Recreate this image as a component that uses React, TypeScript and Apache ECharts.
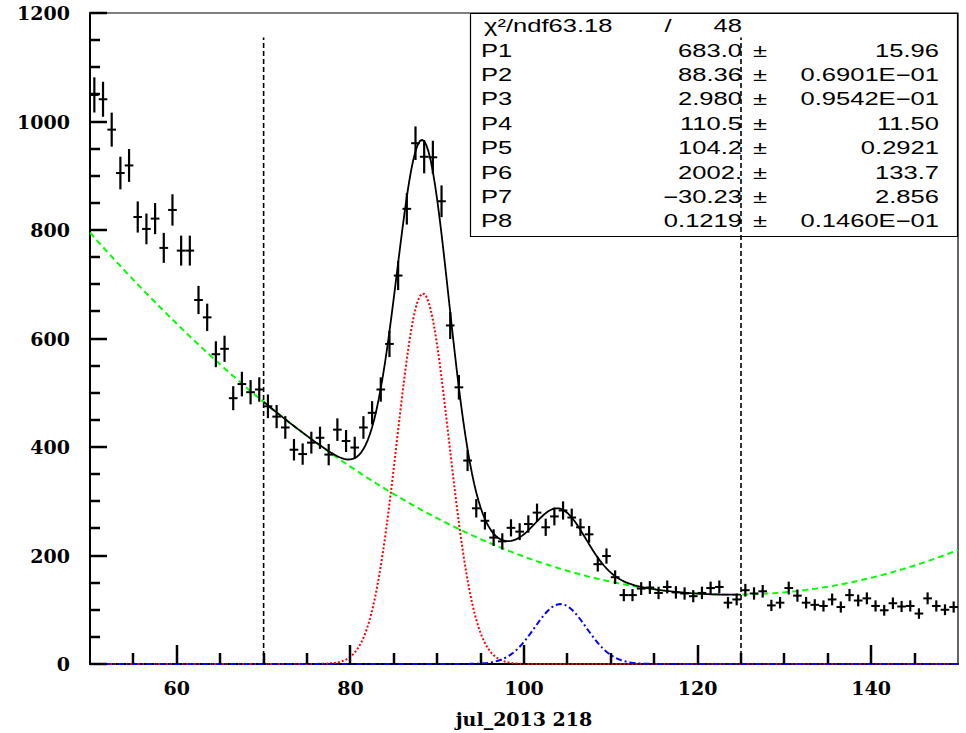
import React, { useEffect, useRef } from "react";
import * as echarts from "echarts";

// histogram: 1-unit bins from 50 to 150
const binStart = 50;
const binWidth = 1;
const counts = [
  1049, 1041, 985, 905, 919, 824, 802, 821, 767, 837,
  762, 762, 671, 639, 571, 581, 490, 516, 501, 506,
  475, 456, 436, 395, 387, 408, 417, 386, 432, 411,
  399, 436, 463, 506, 590, 716, 839, 960, 935, 934,
  853, 624, 510, 375, 287, 264, 233, 226, 251, 244,
  258, 279, 252, 272, 283, 270, 252, 239, 184, 199,
  160, 127, 127, 139, 141, 131, 142, 132, 130, 125,
  131, 140, 142, 113, 119, 136, 130, 134, 108, 113,
  140, 126, 113, 109, 107, 119, 105, 127, 117, 121,
  107, 99, 112, 106, 107, 93, 121, 107, 100, 105,
];

// fit result (gaus + gaus + pol2), as printed in the stats box
const paramNames = ["P1", "P2", "P3", "P4", "P5", "P6", "P7", "P8"];
const paramValues = [683.0, 88.36, 2.98, 110.5, 104.2, 2002, -30.23, 0.1219];
const paramTexts = ["683.0", "88.36", "2.980", "110.5", "104.2", "2002.", "\u221230.23", "0.1219"];
const paramErrors = ["15.96", "0.6901E\u221201", "0.9542E\u221201", "11.50", "0.2921", "133.7", "2.856", "0.1460E\u221201"];
const chi2Text = "63.18";
const ndfText = "48";
const fitRange = [70, 125];
const rangeLineTop = 1155;

const xMin = 50;
const xMax = 150;
const yMax = 1200;
const xLabelTicks = [60, 80, 100, 120, 140];
const xMinorTicks = [55, 65, 70, 75, 85, 90, 95, 105, 110, 115, 125, 130, 135, 145];
const yMajorTicks = [0, 200, 400, 600, 800, 1000, 1200];
const yMinorTicks = [50, 100, 150, 250, 300, 350, 450, 500, 550, 650, 700, 750, 850, 900, 950, 1050, 1100, 1150];

const gaus = (x: number, a: number, m: number, s: number) =>
  a * Math.exp(-0.5 * ((x - m) / s) * ((x - m) / s));
const P = paramValues;
const sig1 = (x: number) => gaus(x, P[0], P[1], P[2]);
const sig2 = (x: number) => gaus(x, P[3], P[4], P[2]);
const bkg = (x: number) => P[5] + P[6] * x + P[7] * x * x;

function sample(f: (x: number) => number, a: number, b: number, step: number) {
  const out: number[][] = [];
  for (let x = a; x <= b + 1e-9; x += step) out.push([x, f(x)]);
  return out;
}

const W = 966;
const H = 733;
const G = { left: 90, right: 8, top: 13, bottom: 67 };

export default function App() {
  const ref = useRef<HTMLDivElement>(null);
  useEffect(() => {
    if (!ref.current) return;
    const chart = echarts.init(ref.current, null, { renderer: "svg" });

    const points = counts.map((c, i) => [binStart + binWidth * (i + 0.5), c, Math.sqrt(c)]);

    const tickData: number[][] = [
      ...xLabelTicks.map((v) => [v, 0, 19, 0]),
      ...xMinorTicks.map((v) => [v, 0, 11, 0]),
      ...yMajorTicks.map((v) => [xMin, v, 17, 1]),
      ...yMinorTicks.map((v) => [xMin, v, 10, 1]),
    ];

    const statFont = { fontFamily: "Liberation Sans", fontSize: 18, fill: "#000" };
    const sx = 1.42;
    const rowY = (i: number) => 26 + i * 24.4;
    const txt = (text: string, x: number, y: number, align: string) => ({
      type: "text",
      x,
      y,
      scaleX: sx,
      z: 1,
      silent: true,
      style: {
        text,
        ...statFont,
        textAlign: align,
        align,
        textVerticalAlign: "middle",
        verticalAlign: "middle",
      },
    });
    const statEls: any[] = [
      {
        type: "rect",
        z: 1,
        silent: true,
        shape: { x: 470.5, y: 13.5, width: 487, height: 223 },
        style: { fill: "#fff", stroke: "#000", lineWidth: 1.2 },
      },
      txt("\u03c7\u00b2/ndf" + chi2Text, 484, rowY(0), "left"),
      txt("/", 668, rowY(0), "center"),
      txt(ndfText, 742, rowY(0), "right"),
    ];
    paramNames.forEach((n, i) => {
      const y = rowY(i + 1);
      statEls.push(txt(n, 481, y, "left"));
      statEls.push(txt(paramTexts[i], 742, y, "right"));
      statEls.push(txt("\u00b1", 753, y, "left"));
      statEls.push(txt(paramErrors[i], 939, y, "right"));
    });

    const labelFont = { fontFamily: "DejaVu Serif", fontWeight: "bold", fontSize: 19, color: "#000" };

    chart.setOption({
      animation: false,
      backgroundColor: "#fff",
      grid: {
        ...G,
        show: true,
        borderColor: "#000",
        borderWidth: 1.2,
        backgroundColor: "transparent",
      },
      xAxis: {
        type: "value",
        min: xMin,
        max: xMax,
        interval: 5,
        splitLine: { show: false },
        axisLine: { show: true, onZero: false, lineStyle: { color: "#000", width: 2 } },
        axisTick: { show: false },
        axisLabel: {
          ...labelFont,
          margin: 14,
          formatter: (v: number) => (xLabelTicks.includes(v) ? String(v) : ""),
        },
        name: "jul_2013 218",
        nameLocation: "middle",
        nameGap: 45,
        nameTextStyle: { ...labelFont },
      },
      yAxis: {
        type: "value",
        min: 0,
        max: yMax,
        interval: 200,
        splitLine: { show: false },
        axisLine: { show: true, onZero: false, lineStyle: { color: "#000", width: 2 } },
        axisTick: { show: false },
        axisLabel: { ...labelFont, margin: 20, formatter: (v: number) => String(v) },
      },
      graphic: { elements: statEls },
      series: [
        {
          type: "line",
          name: "background",
          data: sample(bkg, xMin, xMax, 0.25),
          showSymbol: false,
          lineStyle: { color: "#00ff00", width: 2, type: [6, 4] },
          z: 3,
        },
        {
          type: "line",
          name: "peak1",
          data: sample(sig1, xMin, xMax, 0.25),
          showSymbol: false,
          lineStyle: { color: "#ff0000", width: 2, type: [2, 2] },
          z: 3,
        },
        {
          type: "line",
          name: "peak2",
          data: sample(sig2, xMin, xMax, 0.25),
          showSymbol: false,
          lineStyle: { color: "#0000ff", width: 2, type: [6, 3, 2, 3] },
          z: 3,
        },
        {
          type: "line",
          name: "total",
          data: sample((x) => sig1(x) + sig2(x) + bkg(x), fitRange[0], fitRange[1], 0.25),
          showSymbol: false,
          lineStyle: { color: "#000", width: 1.8 },
          z: 4,
        },
        ...fitRange.map((r) => ({
          type: "line",
          data: [
            [r, 0],
            [r, rangeLineTop],
          ],
          showSymbol: false,
          lineStyle: { color: "#000", width: 1.6, type: [5, 3] },
          z: 5,
        })),
        {
          type: "custom",
          name: "data",
          data: points,
          z: 6,
          renderItem: (params: any, api: any) => {
            const x = api.value(0);
            const y = api.value(1);
            const e = api.value(2);
            const l = api.coord([x - binWidth / 2, y]);
            const r = api.coord([x + binWidth / 2, y]);
            const t = api.coord([x, y + e]);
            const b = api.coord([x, y - e]);
            return {
              type: "group",
              children: [
                { type: "line", shape: { x1: l[0], y1: l[1], x2: r[0], y2: r[1] }, style: { stroke: "#000", lineWidth: 2 } },
                { type: "line", shape: { x1: t[0], y1: t[1], x2: b[0], y2: b[1] }, style: { stroke: "#000", lineWidth: 2.2 } },
              ],
            };
          },
        },
        {
          type: "custom",
          name: "ticks",
          data: tickData,
          z: 8,
          renderItem: (params: any, api: any) => {
            const p = api.coord([api.value(0), api.value(1)]);
            const len = api.value(2);
            const dir = api.value(3);
            const x0 = Math.round(p[0]);
            const y0 = Math.round(p[1]);
            const shape =
              dir === 0
                ? { x1: x0, y1: y0, x2: x0, y2: y0 - len }
                : { x1: x0, y1: y0, x2: x0 + len, y2: y0 };
            return { type: "line", shape, style: { stroke: "#000", lineWidth: 2.5 } };
          },
        },
      ],
    });
    return () => chart.dispose();
  }, []);
  return (
    <div
      ref={ref}
      style={{ position: "fixed", left: 0, top: 0, width: W, height: H, background: "#fff" }}
    />
  );
}
